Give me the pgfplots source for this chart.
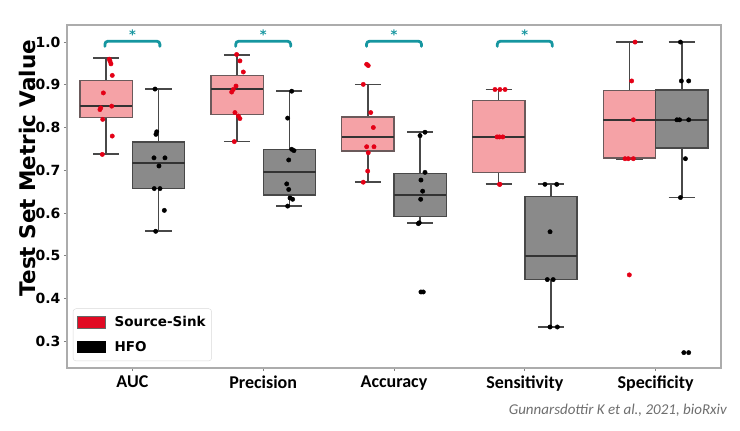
\documentclass[border=0pt]{standalone}
\usepackage{pgfplots}
\pgfplotsset{compat=1.18}
\usepackage{fontspec}
\setmainfont{DejaVu Sans}
\newfontfamily\carlito{Carlito}
\definecolor{pinkfill}{RGB}{245,162,166}
\definecolor{greyfill}{RGB}{138,138,138}
\definecolor{edgegray}{RGB}{72,72,72}
\definecolor{ptred}{RGB}{228,0,22}
\definecolor{legred}{RGB}{225,10,35}
\definecolor{sigteal}{RGB}{22,150,160}
\definecolor{citegray}{RGB}{110,110,110}
\pgfplotsset{rectleg/.style={legend image code/.code={\draw[##1, sharp corners] (0pt,-5.5pt) rectangle (28pt,6pt);}}}
\begin{document}
\begin{tikzpicture}
\path[use as bounding box] (0pt,0pt) rectangle (740pt,-431pt);
\begin{axis}[
  at={(67pt,-368pt)}, anchor=south west,
  scale only axis, width=654pt, height=343pt,
  xmin=-0.5, xmax=4.5, ymin=0.237, ymax=1.04,
  unbounded coords=jump,
  xtick={0,1,2,3,4},
  xticklabels={AUC,Precision,Accuracy,Sensitivity,Specificity},
  ytick={0.3,0.4,0.5,0.6,0.7,0.8,0.9,1.0},
  tick pos=left, tick align=outside, major tick length=3pt,
  tick style={gray, line width=0.8pt},
  axis line style={draw=gray!65, line width=1.3pt},
  yticklabel style={/pgf/number format/.cd, fixed, fixed zerofill, precision=1, assume math mode=true, /tikz/.cd, font=\bfseries\fontsize{14}{16}\selectfont},
  xticklabel style={font=\carlito\bfseries\fontsize{18}{21}\selectfont, yshift=-1pt},
  ylabel={Test Set Metric Value},
  ylabel style={at={(rel axis cs:-0.061,0.583)}, anchor=center, font=\bfseries\fontsize{21.5}{25}\selectfont},
  legend style={at={(rel axis cs:0.009,0.02)}, anchor=south west, draw=gray!30, rounded corners=3pt, fill=white, font=\bfseries\fontsize{13.5}{16}\selectfont, inner xsep=4pt, inner ysep=6pt, row sep=9pt, column sep=7pt, cells={anchor=west}},
]
\addlegendimage{rectleg, fill=legred, draw=black!60, line width=0.6pt}
\addlegendentry{Source-Sink}
\addlegendimage{rectleg, fill=black, draw=black, line width=0.6pt}
\addlegendentry{HFO}

% ---------- whiskers and caps (Source-Sink) ----------
\addplot[forget plot, edgegray, line width=1.7pt] coordinates {
 (-0.2,0.738) (-0.2,0.962) (0,nan) (-0.3,0.738) (-0.1,0.738) (0,nan) (-0.3,0.962) (-0.1,0.962) (0,nan)
 (0.8,0.767) (0.8,0.969) (0,nan) (0.7,0.767) (0.9,0.767) (0,nan) (0.7,0.969) (0.9,0.969) (0,nan)
 (1.8,0.672) (1.8,0.901) (0,nan) (1.7,0.672) (1.9,0.672) (0,nan) (1.7,0.901) (1.9,0.901) (0,nan)
 (2.8,0.667) (2.8,0.889) (0,nan) (2.7,0.667) (2.9,0.667) (0,nan) (2.7,0.889) (2.9,0.889) (0,nan)
 (3.8,0.727) (3.8,1.000) (0,nan) (3.7,0.727) (3.9,0.727) (0,nan) (3.7,1.000) (3.9,1.000)
};
% ---------- whiskers and caps (HFO) ----------
\addplot[forget plot, edgegray, line width=1.7pt] coordinates {
 (0.2,0.557) (0.2,0.890) (0,nan) (0.1,0.557) (0.3,0.557) (0,nan) (0.1,0.890) (0.3,0.890) (0,nan)
 (1.2,0.616) (1.2,0.885) (0,nan) (1.1,0.616) (1.3,0.616) (0,nan) (1.1,0.885) (1.3,0.885) (0,nan)
 (2.2,0.576) (2.2,0.789) (0,nan) (2.1,0.576) (2.3,0.576) (0,nan) (2.1,0.789) (2.3,0.789) (0,nan)
 (3.2,0.333) (3.2,0.667) (0,nan) (3.1,0.333) (3.3,0.333) (0,nan) (3.1,0.667) (3.3,0.667) (0,nan)
 (4.2,0.636) (4.2,1.000) (0,nan) (4.1,0.636) (4.3,0.636) (0,nan) (4.1,1.000) (4.3,1.000)
};

% ---------- boxes (Source-Sink): Q1 to Q3 ----------
\addplot[forget plot, fill=pinkfill, draw=edgegray!80!pinkfill, line width=1.4pt] coordinates {(-0.4,0.823) (0.0,0.823) (0.0,0.910) (-0.4,0.910)} --cycle;
\addplot[forget plot, fill=pinkfill, draw=edgegray!80!pinkfill, line width=1.4pt] coordinates {(0.6,0.831) (1.0,0.831) (1.0,0.922) (0.6,0.922)} --cycle;
\addplot[forget plot, fill=pinkfill, draw=edgegray!80!pinkfill, line width=1.4pt] coordinates {(1.6,0.745) (2.0,0.745) (2.0,0.825) (1.6,0.825)} --cycle;
\addplot[forget plot, fill=pinkfill, draw=edgegray!80!pinkfill, line width=1.4pt] coordinates {(2.6,0.694) (3.0,0.694) (3.0,0.863) (2.6,0.863)} --cycle;
\addplot[forget plot, fill=pinkfill, draw=edgegray!80!pinkfill, line width=1.4pt] coordinates {(3.6,0.729) (4.0,0.729) (4.0,0.887) (3.6,0.887)} --cycle;
% ---------- boxes (HFO) ----------
\addplot[forget plot, fill=greyfill, draw=edgegray, line width=1.4pt] coordinates {(0.0,0.657) (0.4,0.657) (0.4,0.766) (0.0,0.766)} --cycle;
\addplot[forget plot, fill=greyfill, draw=edgegray, line width=1.4pt] coordinates {(1.0,0.642) (1.4,0.642) (1.4,0.749) (1.0,0.749)} --cycle;
\addplot[forget plot, fill=greyfill, draw=edgegray, line width=1.4pt] coordinates {(2.0,0.591) (2.4,0.591) (2.4,0.692) (2.0,0.692)} --cycle;
\addplot[forget plot, fill=greyfill, draw=edgegray, line width=1.4pt] coordinates {(3.0,0.444) (3.4,0.444) (3.4,0.639) (3.0,0.639)} --cycle;
\addplot[forget plot, fill=greyfill, draw=edgegray, line width=1.4pt] coordinates {(4.0,0.752) (4.4,0.752) (4.4,0.888) (4.0,0.888)} --cycle;

% ---------- medians ----------
\addplot[forget plot, black!80, line width=2pt] coordinates {
 (-0.4,0.850) (0.0,0.850) (0,nan) (0.6,0.889) (1.0,0.889) (0,nan) (1.6,0.777) (2.0,0.777) (0,nan) (2.6,0.778) (3.0,0.778) (0,nan) (3.6,0.818) (4.0,0.818) (0,nan)
 (0.0,0.717) (0.4,0.717) (0,nan) (1.0,0.696) (1.4,0.696) (0,nan) (2.0,0.643) (2.4,0.643) (0,nan) (3.0,0.500) (3.4,0.500) (0,nan) (4.0,0.818) (4.4,0.818)
};

% ---------- Source-Sink points ----------
\addplot[forget plot, only marks, mark=*, mark size=2.2pt, color=ptred] coordinates {
 (-0.177,0.960) (-0.171,0.955) (-0.164,0.949) (-0.154,0.922) (-0.222,0.881) (-0.158,0.850) (-0.242,0.846) (-0.248,0.842) (-0.227,0.819) (-0.154,0.780) (-0.230,0.737)
 (0.797,0.971) (0.822,0.956) (0.848,0.930) (0.792,0.897) (0.771,0.889) (0.759,0.883) (0.784,0.835) (0.810,0.827) (0.822,0.821) (0.779,0.767)
 (1.791,0.948) (1.803,0.945) (1.765,0.901) (1.822,0.835) (1.842,0.800) (1.791,0.755) (1.847,0.755) (1.803,0.741) (1.799,0.698) (1.765,0.672)
 (2.772,0.889) (2.810,0.889) (2.849,0.889) (2.788,0.778) (2.806,0.778) (2.832,0.778) (2.806,0.667) (2.810,0.667)
 (3.843,1.000) (3.817,0.909) (3.830,0.818) (3.766,0.727) (3.791,0.727) (3.830,0.727) (3.799,0.455)
};
% ---------- HFO points ----------
\addplot[forget plot, only marks, mark=*, mark size=2.2pt, color=black] coordinates {
 (0.173,0.890) (0.186,0.790) (0.180,0.784) (0.165,0.729) (0.249,0.729) (0.203,0.710) (0.167,0.657) (0.211,0.657) (0.244,0.606) (0.178,0.557)
 (1.218,0.885) (1.187,0.822) (1.218,0.749) (1.235,0.746) (1.195,0.724) (1.180,0.668) (1.195,0.655) (1.205,0.635) (1.225,0.632) (1.187,0.616)
 (2.199,0.781) (2.237,0.789) (2.237,0.695) (2.206,0.677) (2.219,0.651) (2.204,0.632) (2.186,0.575) (2.193,0.577) (2.206,0.415) (2.224,0.415)
 (3.154,0.667) (3.244,0.667) (3.193,0.556) (3.172,0.444) (3.217,0.444) (3.193,0.333) (3.249,0.333)
 (4.190,1.000) (4.197,0.909) (4.253,0.909) (4.163,0.818) (4.183,0.818) (4.253,0.818) (4.228,0.727) (4.190,0.636) (4.216,0.273) (4.253,0.273)
};

% ---------- significance brackets ----------
\addplot[forget plot, sigteal, line width=2.8pt, line cap=round, rounded corners=3pt] coordinates {(-0.21,0.990) (-0.21,1.002) (0.21,1.002) (0.21,0.990)};
\addplot[forget plot, sigteal, line width=2.8pt, line cap=round, rounded corners=3pt] coordinates {(0.79,0.990) (0.79,1.002) (1.21,1.002) (1.21,0.990)};
\addplot[forget plot, sigteal, line width=2.8pt, line cap=round, rounded corners=3pt] coordinates {(1.79,0.990) (1.79,1.002) (2.21,1.002) (2.21,0.990)};
\addplot[forget plot, sigteal, line width=2.8pt, line cap=round, rounded corners=3pt] coordinates {(2.79,0.990) (2.79,1.002) (3.21,1.002) (3.21,0.990)};
\node[anchor=base, text=sigteal, font=\bfseries\fontsize{13}{15}\selectfont, inner sep=0pt] at (axis cs:0,1.007) {*};
\node[anchor=base, text=sigteal, font=\bfseries\fontsize{13}{15}\selectfont, inner sep=0pt] at (axis cs:1,1.007) {*};
\node[anchor=base, text=sigteal, font=\bfseries\fontsize{13}{15}\selectfont, inner sep=0pt] at (axis cs:2,1.007) {*};
\node[anchor=base, text=sigteal, font=\bfseries\fontsize{13}{15}\selectfont, inner sep=0pt] at (axis cs:3,1.007) {*};
\end{axis}
\node[anchor=east, text=citegray, font=\carlito\itshape\fontsize{15}{18}\selectfont, inner sep=0pt] at (727pt,-410pt) {Gunnarsdottir K et al., 2021, bioRxiv};
\end{tikzpicture}
\end{document}
